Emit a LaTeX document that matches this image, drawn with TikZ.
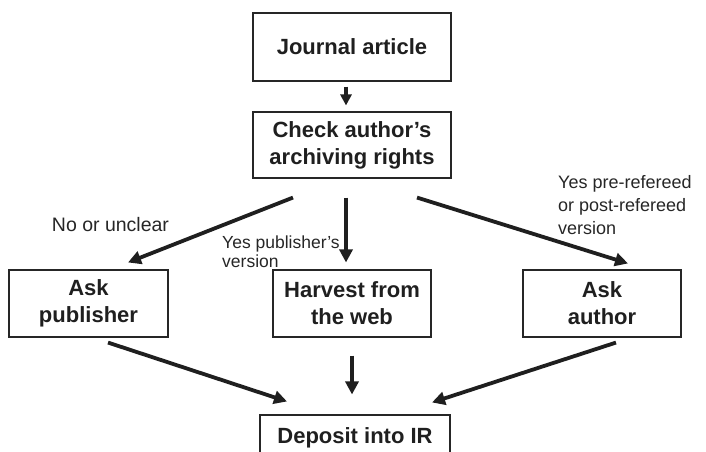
\documentclass[tikz,border=0pt]{standalone}
\usepackage{fontspec}
\setmainfont{Liberation Sans}
\usetikzlibrary{arrows.meta}

\begin{document}
\begin{tikzpicture}[x=1pt,y=-1pt,
    box/.style={draw=black!85,line width=1.1pt,minimum height=67pt,align=center,
        font=\bfseries\fontsize{22}{27}\selectfont,text=black!88},
    lbl/.style={inner sep=0pt,align=left,text=black!85},
    arr/.style={line width=3.8pt,draw=black!88,-{Triangle[length=13pt,width=13pt]}}]
    \clip(0,0)rectangle(706,451);
    \useasboundingbox(0,0)rectangle(706,451);

    \node[box,minimum width=198pt,minimum height=68pt](1)at(352,47){Journal article};
    \node[box,minimum width=198pt,minimum height=66pt](2)at(352,145){Check author's\\archiving rights};

    \node[box,minimum width=159pt](3)at(88.5,303.5){Ask\\publisher};
    \node[box,minimum width=158pt](4)at(352,303.5){Harvest from\\the web};
    \node[box,minimum width=158pt](5)at(602,303.5){Ask\\author};
    \node[box,minimum width=190pt,minimum height=46pt](6)at(355,438){Deposit into IR};

    \draw[arr,line width=3.2pt,-{Triangle[length=11pt,width=11pt]}]([shift={(-6,5)}]1.south)--([shift={(-6,-6)}]2.north);

    \draw[arr]([shift={(-59,19)}]2.south)--([shift={(39.5,-7)}]3.north);
    \draw[arr]([shift={(-6,19)}]2.south)--([shift={(-6,-7)}]4.north);
    \draw[arr]([shift={(65,19)}]2.south)--([shift={(26,-6)}]5.north);

    \draw[arr]([shift={(19.5,5)}]3.south)--([shift={(-68,-13)}]6.north);
    \draw[arr]([shift={(0,18)}]4.south)--([shift={(-3,-20)}]6.north);
    \draw[arr]([shift={(14,5)}]5.south)--([shift={(77,-12)}]6.north);

    \node[lbl,font=\fontsize{19.5}{23}\selectfont](7)at(110.5,225){No or unclear};
    \node[lbl,anchor=west,font=\fontsize{17.5}{19.3}\selectfont](8)at(222,251.5){Yes publisher's\\version};
    \node[lbl,anchor=west,font=\fontsize{18}{23}\selectfont](9)at(558,205){Yes pre-refereed\\or post-refereed\\version};
\end{tikzpicture}
\end{document}
